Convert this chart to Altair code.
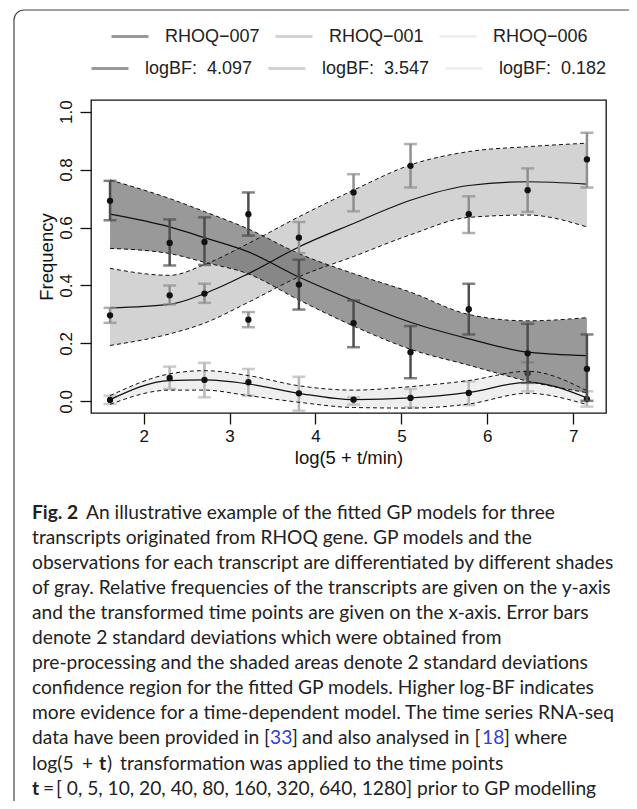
import altair as alt
import pandas as pd

# ---------------- data ----------------
x_pos = [1.609, 2.303, 2.708, 3.219, 3.807, 4.443, 5.106, 5.784, 6.469, 7.159]
series = ["RHOQ\u2212007", "RHOQ\u2212001", "RHOQ\u2212006"]
logbf_labels = ["logBF:\u00a0 4.097", "logBF:\u00a0 3.547", "logBF:\u00a0 0.182"]

# fitted GP mean and +-2 sd band
mean_007 = [0.646, 0.602, 0.565, 0.516, 0.429, 0.348, 0.273, 0.216, 0.170, 0.158]
upper_007 = [0.764, 0.700, 0.655, 0.595, 0.510, 0.441, 0.377, 0.300, 0.278, 0.289]
lower_007 = [0.528, 0.510, 0.480, 0.440, 0.350, 0.260, 0.180, 0.125, 0.070, 0.030]

mean_001 = [0.323, 0.335, 0.372, 0.441, 0.533, 0.614, 0.694, 0.745, 0.758, 0.750]
upper_001 = [0.459, 0.435, 0.472, 0.545, 0.637, 0.729, 0.816, 0.862, 0.879, 0.891]
lower_001 = [0.193, 0.233, 0.270, 0.342, 0.430, 0.500, 0.575, 0.635, 0.643, 0.602]

mean_006 = [0.006, 0.072, 0.074, 0.060, 0.028, 0.006, 0.012, 0.031, 0.066, 0.012]
upper_006 = [0.020, 0.095, 0.106, 0.089, 0.054, 0.039, 0.051, 0.072, 0.104, 0.037]
lower_006 = [-0.010, 0.039, 0.039, 0.020, -0.003, -0.021, -0.023, -0.009, 0.028, -0.011]

# observations with 2 sd error bars
obs_007 = [0.692, 0.547, 0.550, 0.646, 0.403, 0.270, 0.170, 0.318, 0.166, 0.112]
hi_007 = [0.761, 0.628, 0.635, 0.721, 0.489, 0.348, 0.260, 0.406, 0.268, 0.231]
lo_007 = [0.625, 0.469, 0.471, 0.572, 0.317, 0.187, 0.080, 0.231, 0.064, 0.002]

obs_001 = [0.297, 0.366, 0.372, 0.282, 0.565, 0.721, 0.813, 0.646, 0.729, 0.835]
hi_001 = [0.323, 0.400, 0.406, 0.308, 0.619, 0.784, 0.888, 0.708, 0.804, 0.927]
lo_001 = [0.271, 0.335, 0.340, 0.256, 0.512, 0.656, 0.738, 0.581, 0.654, 0.738]

obs_006 = [0.005, 0.081, 0.074, 0.066, 0.028, 0.006, 0.012, 0.029, 0.097, 0.008]
hi_006 = [0.020, 0.120, 0.133, 0.112, 0.085, 0.014, 0.043, 0.069, 0.135, 0.035]
lo_006 = [-0.009, 0.043, 0.014, 0.020, -0.032, -0.011, -0.021, -0.013, 0.035, -0.018]

x_ticks = [2, 3, 4, 5, 6, 7]
y_ticks = [0.0, 0.2, 0.4, 0.6, 0.8, 1.0]

band_colors = ["#9a9a9a", "#d3d3d3", "#efefef"]
err_colors = ["#4d4d4d", "#8f8f8f", "#b5b5b5"]

caption_plain = [
    "transcripts originated from RHOQ gene. GP models and the",
    "observations for each transcript are differentiated by different shades",
    "of gray. Relative frequencies of the transcripts are given on the y-axis",
    "and the transformed time points are given on the x-axis. Error bars",
    "denote 2 standard deviations which were obtained from",
    "pre-processing and the shaded areas denote 2 standard deviations",
    "confidence region for the fitted GP models. Higher log-BF indicates",
    "more evidence for a time-dependent model. The time series RNA-seq",
]

# ---------------- frames ----------------
def frame(mean, lo_b, hi_b, obs, lo_e, hi_e):
    return pd.DataFrame({"x": x_pos, "mean": mean, "blo": lo_b, "bhi": hi_b,
                         "obs": obs, "elo": lo_e, "ehi": hi_e})

f007 = frame(mean_007, lower_007, upper_007, obs_007, lo_007, hi_007)
f001 = frame(mean_001, lower_001, upper_001, obs_001, lo_001, hi_001)
f006 = frame(mean_006, lower_006, upper_006, obs_006, lo_006, hi_006)
frames = [f007, f001, f006]

FONT = "Liberation Sans"
xscale = alt.Scale(domain=[1.3875, 7.381], nice=False, zero=False)
yscale = alt.Scale(domain=[-0.04, 1.04], nice=False, zero=False)
xaxis = alt.Axis(values=x_ticks, format="d", title="log(5 + t/min)", grid=False, domain=False,
                 tickSize=11, tickWidth=1.3, tickColor="#111", labelFont=FONT, labelFontSize=17,
                 labelColor="#111", labelPadding=4, titleFont=FONT, titleFontSize=18.5,
                 titleFontWeight="normal", titleColor="#111", titlePadding=4)
yaxis = alt.Axis(values=y_ticks, format=".1f", title="Frequency", grid=False, domain=False,
                 tickSize=11, tickWidth=1.3, tickColor="#111", labelFont=FONT, labelFontSize=17,
                 labelColor="#111", labelAngle=270, labelAlign="center", labelBaseline="bottom",
                 labelPadding=5, titleFont=FONT, titleFontSize=18.5, titleFontWeight="normal",
                 titleColor="#111", titlePadding=1)

X = alt.X("x:Q", scale=xscale, axis=xaxis)
def Y(field):
    return alt.Y(field + ":Q", scale=yscale, axis=yaxis)

def band(df, col, opacity=1.0):
    return alt.Chart(df).mark_area(interpolate="monotone", color=col, opacity=opacity).encode(
        x=X, y=Y("blo"), y2="bhi:Q")

def errbars(df, col):
    out = [alt.Chart(df).mark_rule(color=col, strokeWidth=2.5).encode(x=X, y=Y("elo"), y2="ehi:Q")]
    for f in ["elo", "ehi"]:
        out.append(alt.Chart(df).mark_tick(color=col, orient="horizontal", size=13, thickness=2.5).encode(
            x=X, y=Y(f)))
    return out

def points(df):
    return alt.Chart(df).mark_circle(color="#111", size=40, opacity=1).encode(x=X, y=Y("obs"))

layers = []

# border of the figure box
one = pd.DataFrame({"a": [0]})
layers.append(alt.Chart(one).mark_rect(fill="white", fillOpacity=0, stroke="#444", strokeWidth=1.2,
                                       cornerRadius=10).encode(
    x=alt.value(-77), x2=alt.value(560), y=alt.value(-90), y2=alt.value(720)))

# light bands, then RHOQ-006 observations, then the translucent dark band
layers.append(band(f006, band_colors[2]))
layers.append(band(f001, band_colors[1]))
layers += errbars(f006, err_colors[2])
layers.append(points(f006))
layers.append(band(f007, "#555555", opacity=0.6))

# dashed band edges
for df in frames:
    for f in ["blo", "bhi"]:
        layers.append(alt.Chart(df).mark_line(interpolate="monotone", color="#111", strokeWidth=1,
                                              strokeDash=[4, 3]).encode(x=X, y=Y(f)))
# mean lines
for df in frames:
    layers.append(alt.Chart(df).mark_line(interpolate="monotone", color="#111", strokeWidth=1.2).encode(
        x=X, y=Y("mean")))
# remaining error bars and points
layers += errbars(f001, err_colors[1])
layers += errbars(f007, err_colors[0])
layers.append(points(f001))
layers.append(points(f007))

# legends (invisible single-point lines carry the legend scales)
leg_common = dict(title=None, orient="none", direction="horizontal", columns=3, symbolType="stroke",
                  symbolSize=1369, symbolStrokeWidth=3, labelFont=FONT, labelFontSize=18,
                  labelColor="#222", labelOffset=15, columnPadding=9, padding=0, labelLimit=400)
leg1 = pd.DataFrame({"x": [x_pos[0]] * 3, "v": [obs_007[0]] * 3, "name": series})
leg2 = pd.DataFrame({"x": [x_pos[0]] * 3, "v": [obs_007[0]] * 3, "bf": logbf_labels})
layers.append(alt.Chart(leg1).mark_line().encode(
    x=X, y=Y("v"),
    stroke=alt.Stroke("name:N", scale=alt.Scale(domain=series, range=band_colors),
                      legend=alt.Legend(legendX=19, legendY=-83.5, **leg_common))))
layers.append(alt.Chart(leg2).mark_line().encode(
    x=X, y=Y("v"),
    stroke=alt.Stroke("bf:N", scale=alt.Scale(domain=logbf_labels, range=band_colors),
                      legend=alt.Legend(legendX=-1, legendY=-51.5, **leg_common))))

# caption
CF = "Lato"
CS = 19.2
TXT = "#222"
BLUE = "#3340d8"
LH = 25.05
def cap(text, px, line, bold=False, color=TXT, align="left"):
    return alt.Chart(one).mark_text(text=text, font=CF, fontSize=CS, align=align, baseline="alphabetic",
                                    fontWeight="bold" if bold else "normal", color=color).encode(
        x=alt.value(px - 91), y=alt.value(519 + LH * line - 100))

layers.append(cap("Fig. 2", 32, 0, bold=True))
layers.append(cap("An illustrative example of the fitted GP models for three", 86, 0))
for i, t in enumerate(caption_plain):
    layers.append(cap(t, 32, i + 1))
layers.append(cap("data have been provided in [", 32, 9))
layers.append(cap("33", 270, 9, color=BLUE))
layers.append(cap("]", 292, 9))
layers.append(cap("and also analysed in [", 302, 9))
layers.append(cap("18", 482, 9, color=BLUE))
layers.append(cap("] where", 504, 9))
layers.append(cap("log(5", 32, 10))
layers.append(cap("+", 82, 10))
layers.append(cap("t", 99, 10, bold=True))
layers.append(cap(")", 107, 10))
layers.append(cap("transformation was applied to the time points", 120, 10))
layers.append(cap("t", 32, 11, bold=True))
layers.append(cap("=", 43, 11))
layers.append(cap("[ 0, 5, 10, 20, 40, 80, 160, 320, 640, 1280] prior to GP modelling", 56, 11))

chart = alt.layer(*layers).properties(
    width=515, height=313, autosize="none",
    padding={"left": 83, "top": 92, "right": 23, "bottom": 388},
).resolve_scale(stroke="independent").configure_view(stroke="#111", strokeWidth=1.3)

chart.save("out.html", embed_options={"renderer": "svg", "actions": False})
